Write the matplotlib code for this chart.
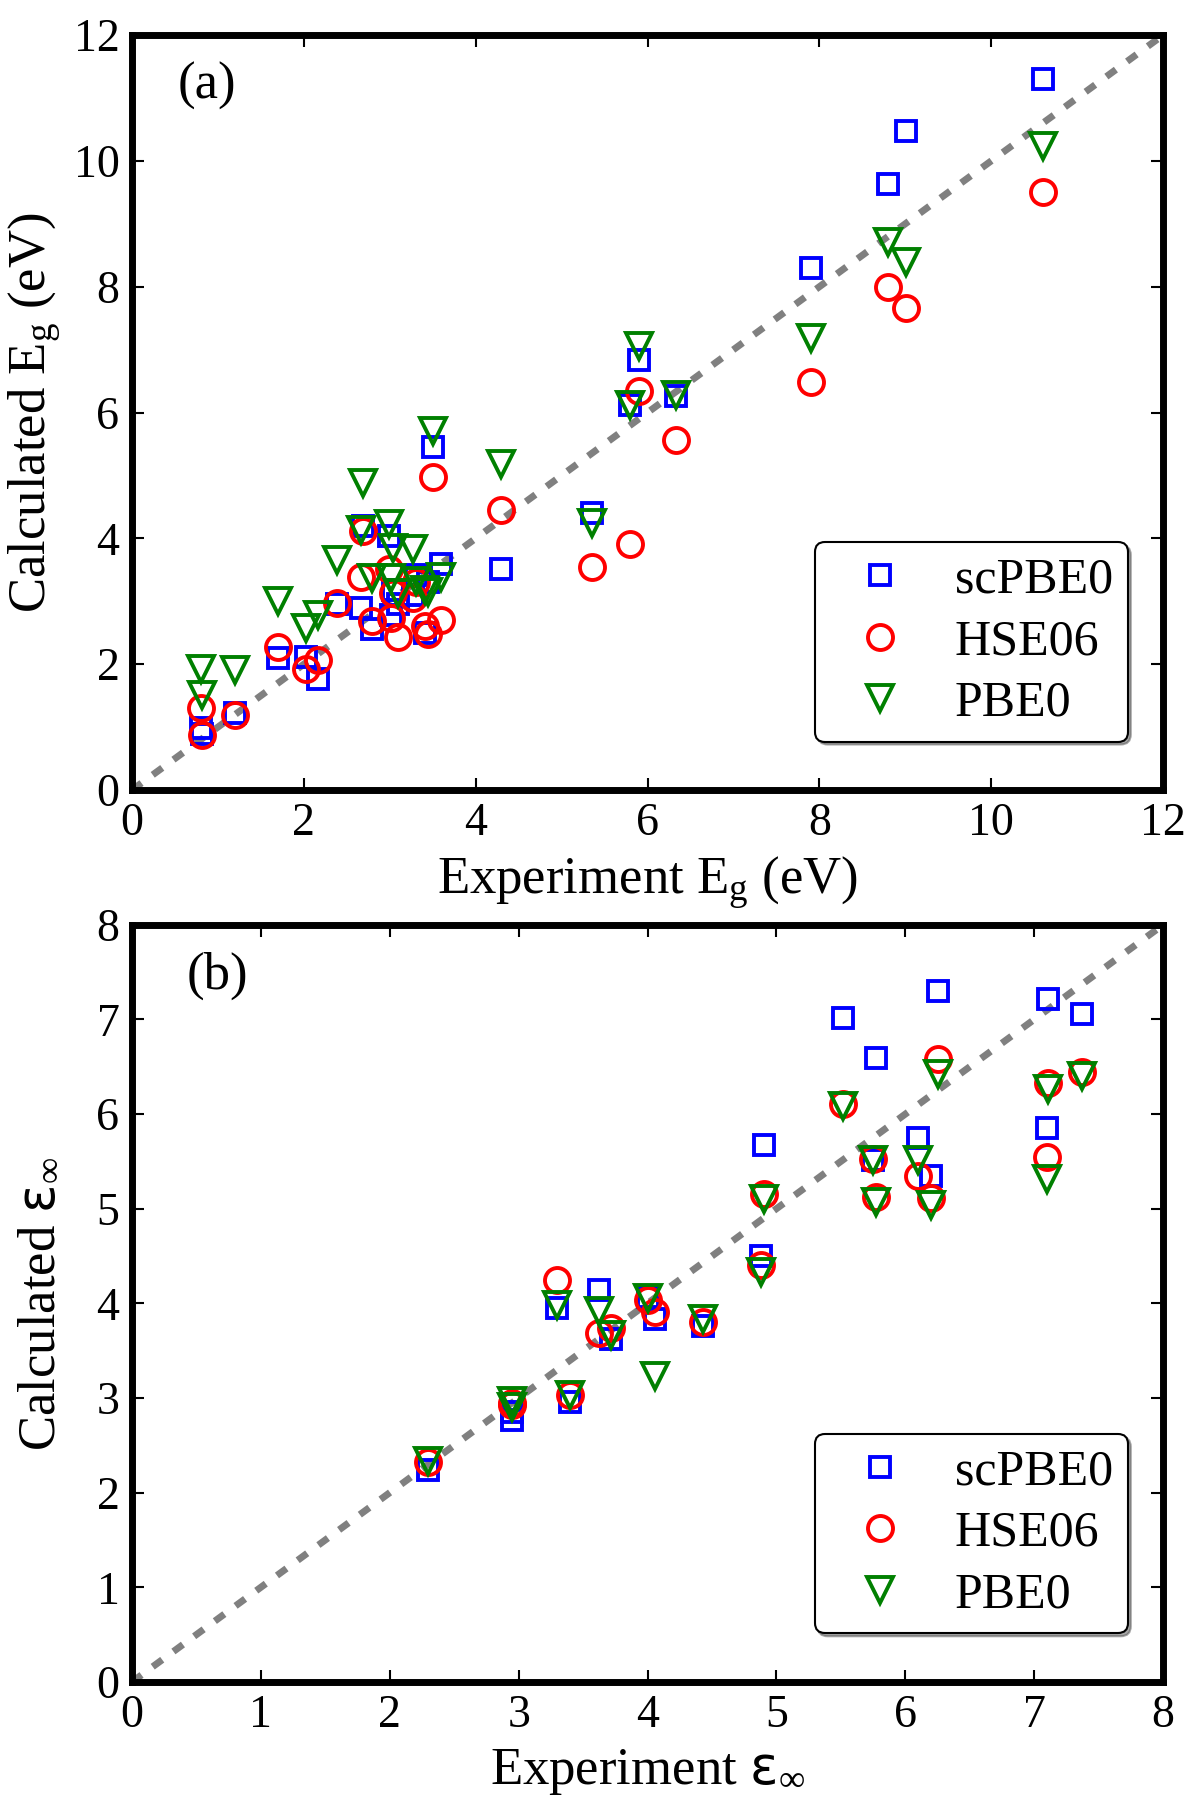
import matplotlib
matplotlib.use("Agg")
import matplotlib.pyplot as plt
import numpy as np

plt.rcParams['font.family'] = ['Liberation Serif', 'DejaVu Sans']
plt.rcParams['mathtext.fontset'] = 'custom'
plt.rcParams['mathtext.rm'] = 'Liberation Serif'
plt.rcParams['mathtext.it'] = 'Liberation Serif'
plt.rcParams['mathtext.sf'] = 'DejaVu Sans'
plt.rcParams['mathtext.default'] = 'regular'

# ---------------- Panel (a): band gaps (eV) ----------------
eg_exp = [0.82, 0.80, 1.20, 1.70, 2.03, 2.17, 2.39, 2.67, 2.69, 2.79,
          2.99, 3.04, 3.02, 3.10, 3.27, 3.31, 3.45, 3.41, 3.50, 3.60,
          4.30, 5.35, 5.80, 5.90, 6.33, 7.90, 8.80, 9.01, 10.60]
eg_scpbe0 = [0.89, 0.98, 1.23, 2.10, 2.12, 1.76, 2.96, 2.89, 4.20, 2.56,
             4.03, 3.18, 2.78, 2.95, 3.10, 3.42, 3.30, 2.50, 5.46, 3.60,
             3.51, 4.41, 6.12, 6.83, 6.26, 8.30, 9.63, 10.48, 11.30]
eg_hse06 = [0.87, 1.31, 1.20, 2.28, 1.92, 2.07, 2.97, 3.39, 4.11, 2.68,
            3.52, 3.13, 2.73, 2.44, 3.05, 3.31, 2.48, 2.60, 4.97, 2.70,
            4.45, 3.55, 3.91, 6.34, 5.56, 6.48, 7.99, 7.66, 9.51]
eg_pbe0 = [1.51, 1.92, 1.90, 3.01, 2.57, 2.78, 3.66, 4.13, 4.88, 3.37,
           4.23, 3.84, 3.37, 3.13, 3.83, 3.33, 3.14, 3.18, 5.70, 3.39,
           5.19, 4.25, 6.12, 7.06, 6.28, 7.19, 8.71, 8.39, 10.23]

# ---------------- Panel (b): dielectric constants ----------------
eps_exp = [2.30, 2.95, 2.95, 3.30, 3.40, 3.62, 3.72, 4.00, 4.06, 4.43,
           4.88, 4.90, 5.52, 5.77, 5.75, 6.10, 6.20, 6.25, 7.11, 7.10, 7.37]
eps_scpbe0 = [2.24, 2.77, 2.85, 3.95, 2.96, 4.14, 3.62, 4.07, 3.84, 3.76,
              4.50, 5.67, 7.02, 6.59, 5.52, 5.75, 5.35, 7.30, 7.22, 5.85, 7.06]
eps_hse06 = [2.32, 2.93, 2.95, 4.25, 3.03, 3.69, 3.74, 4.04, 3.91, 3.80,
             4.41, 5.16, 6.11, 5.12, 5.53, 5.35, 5.11, 6.58, 6.33, 5.55, 6.44]
eps_pbe0 = [2.33, 2.90, 2.97, 3.98, 3.03, 3.92, 3.67, 4.06, 3.23, 3.83,
            4.33, 5.10, 6.09, 5.07, 5.51, 5.51, 5.04, 6.42, 6.27, 5.31, 6.40]

labels = ['scPBE0', 'HSE06', 'PBE0']
colors = ['#0000ff', '#ff0000', '#008000']
markers = ['s', 'o', 'v']
msizes = [15, 18, 19]

fig = plt.figure(figsize=(12, 18), dpi=100)
ax1 = fig.add_axes([0.110, 0.5611, 0.8592, 0.4194])
ax2 = fig.add_axes([0.110, 0.0656, 0.8592, 0.4206])


def draw(ax, x, ys, lim, ticks, xlabel, ylabel, tag, tagx):
    ax.plot([0, lim], [0, lim], color='gray', lw=5, linestyle=(0, (1.7, 2.0)),
            dash_capstyle='butt', zorder=1)
    for y, lab, c, m, ms in zip(ys, labels, colors, markers, msizes):
        ax.plot(x, y, linestyle='none', marker=m, ms=ms, mfc='none', mec=c,
                mew=2.8, label=lab, zorder=3)
    ax.set_xlim(0, lim)
    ax.set_ylim(0, lim)
    ax.set_xticks(ticks)
    ax.set_yticks(ticks)
    ax.tick_params(direction='in', length=8.5, width=1.5, top=True, right=True,
                   labelsize=33, pad=9)
    for s in ax.spines.values():
        s.set_linewidth(5)
    ax.set_xlabel(xlabel, fontsize=38, labelpad=7)
    ax.set_ylabel(ylabel, fontsize=38)
    ax.yaxis.set_label_coords(-0.067, 0.5)
    ax.text(tagx, 0.932, tag, transform=ax.transAxes, fontsize=38,
            ha='center', va='center')
    leg = ax.legend(loc='lower right', bbox_to_anchor=(0.966, 0.064),
                    borderaxespad=0, numpoints=1, fontsize=36, fancybox=True,
                    shadow=True, framealpha=1, edgecolor='black',
                    borderpad=0.3, handlelength=2.0, handletextpad=0.5,
                    labelspacing=0.3)
    leg.get_frame().set_linewidth(1.5)


draw(ax1, eg_exp, [eg_scpbe0, eg_hse06, eg_pbe0], 12, range(0, 13, 2),
     'Experiment E$_{g}$ (eV)', 'Calculated E$_{g}$ (eV)', '(a)', 0.073)
draw(ax2, eps_exp, [eps_scpbe0, eps_hse06, eps_pbe0], 8, range(0, 9, 1),
     r'Experiment $\mathsf{ε}_{∞}$', r'Calculated $\mathsf{ε}_{∞}$', '(b)', 0.083)

fig.savefig('out.png', dpi=100)
